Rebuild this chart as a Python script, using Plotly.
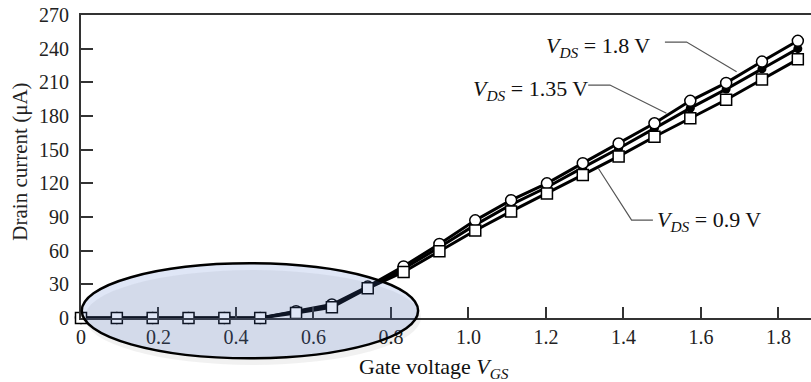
import plotly.graph_objects as go

# ---- data ----
vgs = [0, 0.0925, 0.185, 0.2775, 0.37, 0.4625, 0.555, 0.6475, 0.74, 0.8325, 0.925,
       1.0175, 1.11, 1.2025, 1.295, 1.3875, 1.48, 1.5725, 1.665, 1.7575, 1.85]
id_09 = [0, 0, 0, 0, 0, 0, 4.5, 9.5, 26.5, 41, 59.5, 78, 95, 111, 127.5, 144, 161.5, 178, 194.5, 212.5, 230.5]
id_135 = [0, 0, 0, 0, 0, 0, 5.5, 11, 27, 44, 63, 83, 101, 116.5, 134, 151, 169, 187, 204, 222, 240]
id_18 = [0, 0, 0, 0, 0, 0, 6, 12, 28, 46, 66, 87, 105, 120, 138, 155.5, 173.5, 193.5, 209.5, 228.5, 247]
y_ticks = [0, 30, 60, 90, 120, 150, 180, 210, 240, 270]
x_ticks = [0, 0.2, 0.4, 0.6, 0.8, 1.0, 1.2, 1.4, 1.6, 1.8]
x_tick_text = ["0", "0.2", "0.4", "0.6", "0.8", "1.0", "1.2", "1.4", "1.6", "1.8"]

XR = [0, 1.884]
YR = [0, 270]
FONT = "Liberation Serif"

fig = go.Figure()
fig.add_trace(go.Scatter(x=vgs, y=id_135, mode="lines+markers", cliponaxis=False,
                         line=dict(color="black", width=3),
                         marker=dict(symbol="circle", size=9, color="black"),
                         name="1.35"))
fig.add_trace(go.Scatter(x=vgs, y=id_18, mode="lines+markers", cliponaxis=False,
                         line=dict(color="black", width=3),
                         marker=dict(symbol="circle", size=11, color="white",
                                     line=dict(color="black", width=1.5)),
                         name="1.8"))
fig.add_trace(go.Scatter(x=vgs, y=id_09, mode="lines+markers", cliponaxis=False,
                         line=dict(color="black", width=3),
                         marker=dict(symbol="square", size=11, color="white",
                                     line=dict(color="black", width=1.5)),
                         name="0.9"))

def px(x):
    return (x - XR[0]) / (XR[1] - XR[0])

def py(y):
    return (y - YR[0]) / (YR[1] - YR[0])

# highlight ellipse (defined in data units, drawn in paper units so it is not clipped)
ex0, ex1, ey0, ey1 = 0.002, 0.870, -35.9, 48.7
fig.add_shape(type="circle", xref="paper", yref="paper",
              x0=px(ex0) + 0.004, x1=px(ex1) + 0.004, y0=py(ey0) - 0.022, y1=py(ey1) - 0.022,
              line=dict(width=0), fillcolor="rgba(120,120,120,0.10)", layer="below")
fig.add_shape(type="circle", xref="paper", yref="paper",
              x0=px(ex0), x1=px(ex1), y0=py(ey0), y1=py(ey1),
              line=dict(color="black", width=2.5), fillcolor="rgba(75,115,205,0.18)", layer="above")

# leader lines
leaders = [
    [(1.507, 245.9), (1.563, 245.9), (1.692, 219.5)],
    [(1.309, 207.6), (1.365, 207.6), (1.511, 182.4)],
    [(1.476, 87.3), (1.421, 87.3), (1.335, 133.4)],
]
for pts in leaders:
    path = "M " + " L ".join(f"{x},{y}" for x, y in pts)
    fig.add_shape(type="path", path=path, xref="x", yref="y",
                  line=dict(color="#555555", width=1.2))

lab = dict(xref="x", yref="y", showarrow=False, font=dict(family=FONT, size=22, color="#111"))
fig.add_annotation(x=1.4735, y=241.4, text="<i>V</i><sub><i>DS</i></sub> = 1.8 V", xanchor="right", yanchor="middle", **lab)
fig.add_annotation(x=1.3135, y=203.0, text="<i>V</i><sub><i>DS</i></sub> = 1.35 V", xanchor="right", yanchor="middle", **lab)
fig.add_annotation(x=1.481, y=86.4, text="<i>V</i><sub><i>DS</i></sub> = 0.9 V", xanchor="left", yanchor="middle", **lab)

fig.add_annotation(xref="paper", yref="paper", x=0.4836, y=-0.165, showarrow=False,
                   text="Gate voltage <i>V</i><sub><i>GS</i></sub>", xanchor="center", yanchor="middle",
                   font=dict(family=FONT, size=22, color="#111"))
fig.add_annotation(xref="paper", yref="paper", x=-0.084, y=0.515, showarrow=False,
                   text="Drain current (μA)", textangle=-90, xanchor="center", yanchor="middle",
                   font=dict(family=FONT, size=21, color="#222"))

fig.update_layout(
    width=811, height=382,
    margin=dict(l=81, r=0, t=15, b=64),
    paper_bgcolor="white", plot_bgcolor="rgba(0,0,0,0)",
    showlegend=False,
    font=dict(family=FONT, size=20, color="#222"),
)
fig.update_xaxes(range=XR, tickvals=x_ticks, ticktext=x_tick_text, automargin=False,
                 ticks="inside", ticklen=11, tickwidth=1.5, tickcolor="#333",
                 showline=True, linecolor="#333", linewidth=2, mirror=True,
                 showgrid=False, zeroline=False,
                 tickfont=dict(family=FONT, size=20, color="#222"))
fig.update_yaxes(range=YR, tickvals=y_ticks, automargin=False,
                 ticks="inside", ticklen=12, tickwidth=1.5, tickcolor="#333",
                 showline=True, linecolor="#333", linewidth=2, mirror=False,
                 showgrid=False, zeroline=False, ticklabelstandoff=6,
                 tickfont=dict(family=FONT, size=20, color="#222"))

fig.write_html("out.html", config={"displayModeBar": False},
               post_script="document.body.style.margin='0px';")
